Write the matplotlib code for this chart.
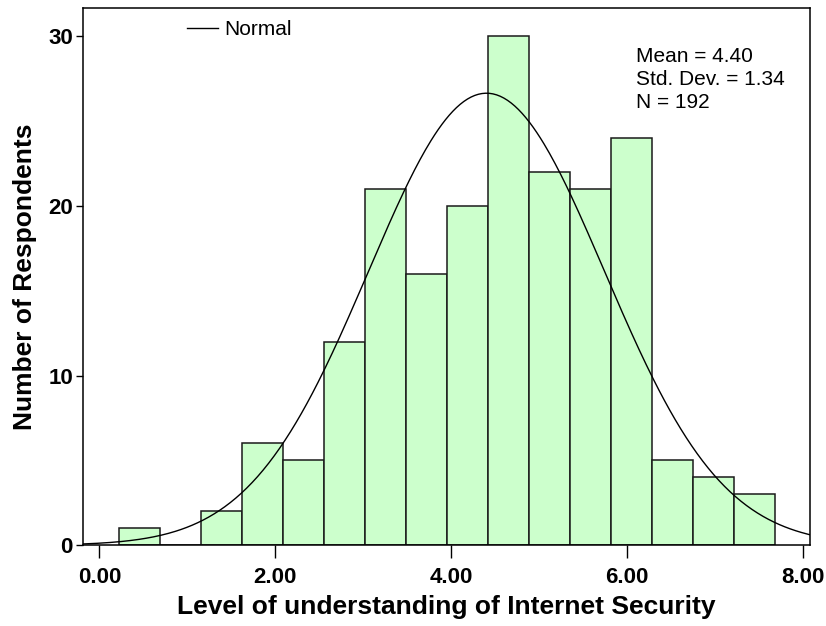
import numpy as np
import matplotlib.pyplot as plt

# histogram bins (left edge of first bin, bin width) and respondent counts
first_edge = 0.227
bin_width = 0.466
counts = [1, 0, 2, 6, 5, 12, 21, 16, 20, 30, 22, 21, 24, 5, 4, 3]

mean = 4.40
std = 1.34
n = 192

x_ticks = [0, 2, 4, 6, 8]
x_ticklabels = ["0.00", "2.00", "4.00", "6.00", "8.00"]
y_ticks = [0, 10, 20, 30]

plt.rcParams['font.family'] = ['Liberation Sans', 'DejaVu Sans']

fig = plt.figure(figsize=(8.26, 6.26), dpi=100)
ax = fig.add_axes([0.100, 0.129, 0.881, 0.858])

lefts = first_edge + bin_width * np.arange(len(counts))
ax.bar(lefts, counts, width=bin_width, align='edge',
       color='#ccffcc', edgecolor='#1a1a1a', linewidth=1.1)

xlo, xhi = -0.19, 8.08
xs = np.linspace(xlo, xhi, 400)
pdf = np.exp(-0.5 * ((xs - mean) / std) ** 2) / (std * np.sqrt(2 * np.pi))
ax.plot(xs, n * bin_width * pdf, color='black', linewidth=1.0, label='Normal')

ax.set_xlim(xlo, xhi)
ax.set_ylim(0, 31.65)
ax.set_xticks(x_ticks)
ax.set_xticklabels(x_ticklabels, fontsize=16, fontweight='bold')
ax.set_yticks(y_ticks)
ax.set_yticklabels([str(t) for t in y_ticks], fontsize=16, fontweight='bold')
ax.tick_params(axis='x', direction='out', length=9, width=1, pad=7)
ax.tick_params(axis='y', direction='out', length=5, width=1, pad=2)
for s in ax.spines.values():
    s.set_linewidth(1.1)

ax.set_xlabel('Level of understanding of Internet Security',
              fontsize=19, fontweight='bold', labelpad=5)
ax.set_ylabel('Number of Respondents', fontsize=19, fontweight='bold', labelpad=8)

ax.legend(loc='upper left', bbox_to_anchor=(0.118, 1.012), frameon=False,
          fontsize=15, handlelength=1.5, handletextpad=0.3)

ax.text(0.760, 0.927, 'Mean = 4.40\nStd. Dev. = 1.34\nN = 192',
        transform=ax.transAxes, fontsize=15, va='top', ha='left',
        linespacing=1.25)

fig.savefig('out.png', dpi=100)
